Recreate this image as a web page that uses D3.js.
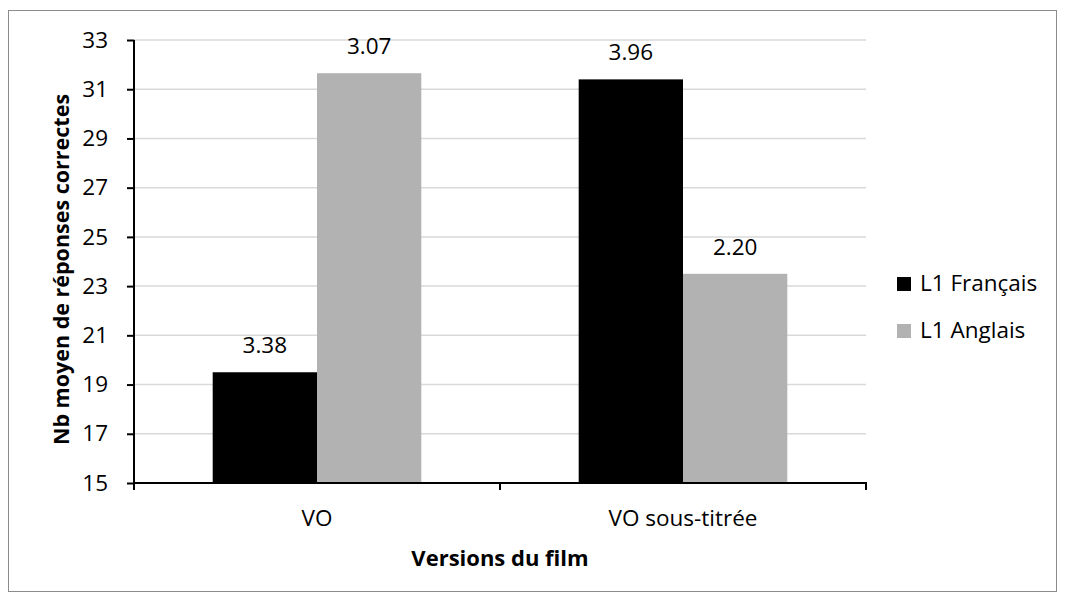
<!DOCTYPE html>
<html>
<head>
<meta charset="utf-8">
<script src="https://cdn.jsdelivr.net/npm/d3@7/dist/d3.min.js"></script>
<style>
  html, body { margin: 0; padding: 0; background: #fff; }
  svg { display: block; font-family: "Open Sans", sans-serif; }
</style>
</head>
<body>
<svg id="chart" width="1065" height="601"></svg>
<script>
// Film versions shown on the x axis
const categories = ["VO", "VO sous-titrée"];
// Speaker groups (first language)
const seriesNames = ["L1 Français", "L1 Anglais"];
const seriesColors = ["#000000", "#b2b2b2"];
// Mean number of correct answers per version, per group
const frenchValues = [19.5, 31.4];
const englishValues = [31.65, 23.5];
// Figures printed above each bar
const frenchLabels = ["3.38", "3.96"];
const englishLabels = ["3.07", "2.20"];
// Y axis ticks
const yTicks = [15, 17, 19, 21, 23, 25, 27, 29, 31, 33];

const FONT = 22.5;

const svg = d3.select("#chart");

// Chart frame
svg.append("rect")
  .attr("x", 8.5).attr("y", 10.5)
  .attr("width", 1048).attr("height", 581)
  .attr("fill", "#fff").attr("stroke", "#8c8c8c").attr("stroke-width", 1);

const plot = { left: 134, right: 866, top: 40, bottom: 483 };

const x = d3.scaleBand()
  .domain(categories)
  .range([plot.left, plot.right])
  .paddingInner(0.43)
  .paddingOuter(0.215);

const xs = d3.scaleBand()
  .domain(seriesNames)
  .range([0, x.bandwidth()]);

const y = d3.scaleLinear()
  .domain([15, 33])
  .range([plot.bottom, plot.top]);

// Horizontal gridlines
svg.append("g")
  .selectAll("line")
  .data(yTicks.filter(t => t > 15))
  .join("line")
  .attr("x1", plot.left).attr("x2", plot.right)
  .attr("y1", d => y(d)).attr("y2", d => y(d))
  .attr("stroke", "#d9d9d9").attr("stroke-width", 1.5);

// Bars
const rows = categories.map((c, i) => ({
  category: c,
  values: [
    { name: seriesNames[0], value: frenchValues[i], label: frenchLabels[i], color: seriesColors[0] },
    { name: seriesNames[1], value: englishValues[i], label: englishLabels[i], color: seriesColors[1] }
  ]
}));

const groups = svg.append("g")
  .selectAll("g")
  .data(rows)
  .join("g")
  .attr("transform", d => `translate(${x(d.category)},0)`);

groups.selectAll("rect")
  .data(d => d.values)
  .join("rect")
  .attr("x", d => xs(d.name))
  .attr("width", xs.bandwidth())
  .attr("y", d => y(d.value))
  .attr("height", d => y(15) - y(d.value))
  .attr("fill", d => d.color);

groups.selectAll("text")
  .data(d => d.values)
  .join("text")
  .attr("x", d => xs(d.name) + xs.bandwidth() / 2)
  .attr("y", d => y(d.value) - 19)
  .attr("text-anchor", "middle")
  .attr("font-size", FONT)
  .attr("fill", "#000")
  .text(d => d.label);

// Y axis
const yAxis = svg.append("g")
  .attr("transform", `translate(${plot.left},0)`)
  .call(d3.axisLeft(y).tickValues(yTicks).tickSize(7).tickPadding(19).tickFormat(d3.format("d")));
yAxis.select(".domain").attr("stroke", "#000").attr("stroke-width", 2)
  .attr("d", `M0,${plot.top}V${plot.bottom}`);
yAxis.selectAll(".tick line").attr("stroke", "#000").attr("stroke-width", 2);
yAxis.selectAll(".tick text").attr("font-size", FONT).attr("fill", "#000")
  .attr("font-family", "Open Sans, sans-serif");

// X axis line with boundary ticks
const xAxisG = svg.append("g");
xAxisG.append("line")
  .attr("x1", plot.left - 1).attr("x2", plot.right + 1)
  .attr("y1", plot.bottom).attr("y2", plot.bottom)
  .attr("stroke", "#000").attr("stroke-width", 2);
const boundaries = [plot.left, ...categories.slice(1).map(c => x(c) - x.step() * x.paddingInner() / 2), plot.right];
xAxisG.selectAll("line.b")
  .data(boundaries)
  .join("line")
  .attr("class", "b")
  .attr("x1", d => d).attr("x2", d => d)
  .attr("y1", plot.bottom).attr("y2", plot.bottom + 7)
  .attr("stroke", "#000").attr("stroke-width", 2);

// Category labels
svg.append("g")
  .selectAll("text")
  .data(categories)
  .join("text")
  .attr("x", d => x(d) + x.bandwidth() / 2)
  .attr("y", 526)
  .attr("text-anchor", "middle")
  .attr("font-size", FONT)
  .attr("fill", "#000")
  .text(d => d);

// Axis titles
svg.append("text")
  .attr("x", (plot.left + plot.right) / 2)
  .attr("y", 566)
  .attr("text-anchor", "middle")
  .attr("font-size", 22)
  .attr("font-weight", "bold")
  .attr("fill", "#000")
  .text("Versions du film");

svg.append("text")
  .attr("transform", `translate(69,${(plot.top + plot.bottom) / 2 + 8}) rotate(-90)`)
  .attr("text-anchor", "middle")
  .attr("font-size", 21.5)
  .attr("font-weight", "bold")
  .attr("fill", "#000")
  .text("Nb moyen de réponses correctes");

// Legend
const legend = svg.append("g")
  .selectAll("g")
  .data(seriesNames)
  .join("g")
  .attr("transform", (d, i) => `translate(897,${277 + i * 47})`);
legend.append("rect")
  .attr("width", 14).attr("height", 14)
  .attr("fill", (d, i) => seriesColors[i]);
legend.append("text")
  .attr("x", 23).attr("y", 13.5)
  .attr("font-size", FONT)
  .attr("fill", "#000")
  .text(d => d);
</script>
</body>
</html>
